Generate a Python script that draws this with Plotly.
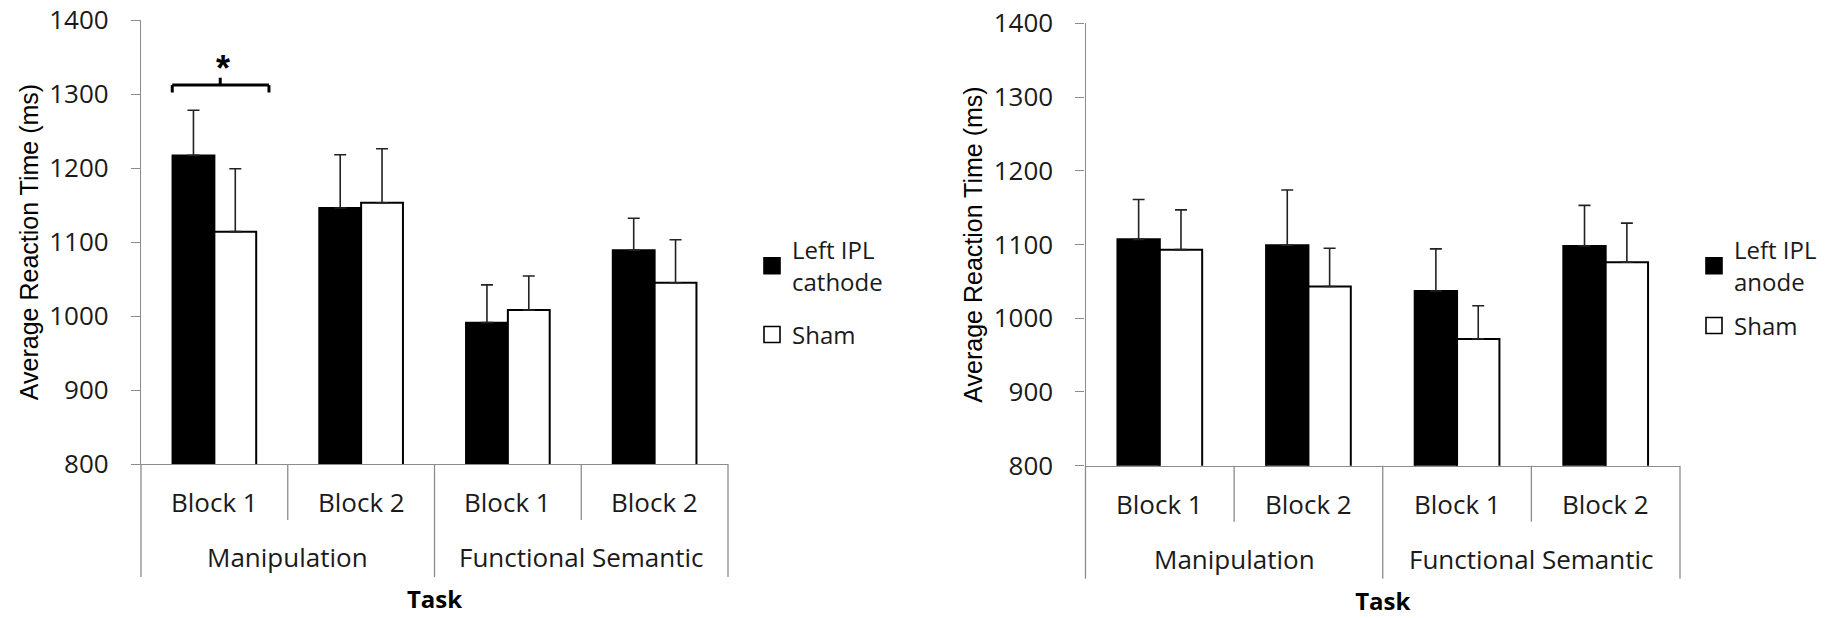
import plotly.graph_objects as go

# ---------------- data ----------------
blocks = ["Block 1", "Block 2", "Block 1", "Block 2"]
group_names = ["Manipulation", "Functional Semantic"]
blocks_per_group = 2

cathode_mean = [1217, 1146, 991, 1089]
cathode_err = [61, 72, 51, 43]
sham_left_mean = [1114, 1153, 1008, 1045]
sham_left_err = [85, 73, 46, 58]

anode_mean = [1107, 1099, 1037, 1098]
anode_err = [54, 75, 57, 55]
sham_right_mean = [1093, 1043, 972, 1076]
sham_right_err = [54, 52, 45, 53]

y_range = [800, 1400]
y_dtick = 100

# significance bracket (left chart, Manipulation Block 1)
sig_x = [-0.287, 0.04, 0.372]      # left end, centre tick, right end
sig_y = [1302, 1312, 1322]         # end tips, bar line, centre tip
sig_star = (0.057, 1335)

# ---------------- styling ----------------
AX = "#8c8c8c"
TXT = "#1a1a1a"
LBL_FONT = dict(family="Open Sans", size=26, color=TXT)
LEG_FONT = dict(family="Open Sans", size=24, color=TXT)
pos = list(range(len(blocks)))
n = len(blocks)
W, H = 1827, 618

fig = go.Figure()


def add_panel(xa, ya, m1, e1, m2, e2, leg, name1):
    for mean, err, fill, nm in [(m1, e1, "black", name1), (m2, e2, "white", "Sham")]:
        fig.add_trace(go.Bar(
            x=pos, y=mean, xaxis=xa, yaxis=ya, showlegend=False,
            marker=dict(color=fill, line=dict(color="black", width=2)),
            error_y=dict(type="data", symmetric=False, array=err,
                         arrayminus=[0] * len(err), color="#222222",
                         thickness=1.6, width=6),
            hoverinfo="y",
        ))
        fig.add_trace(go.Scatter(
            x=[None], y=[None], xaxis=xa, yaxis=ya, mode="markers", name=nm,
            legend=leg, legendgroup=leg + nm,
            marker=dict(symbol="square", size=16, color=fill,
                        line=dict(color="black", width=1.6)),
        ))


add_panel("x", "y", cathode_mean, cathode_err, sham_left_mean, sham_left_err,
          "legend", "Left IPL<br>cathode")
add_panel("x2", "y2", anode_mean, anode_err, sham_right_mean, sham_right_err,
          "legend2", "Left IPL<br>anode")

shapes = []
annotations = []
for xr, yr in [("x", "y"), ("x2", "y2")]:
    xd = xr + " domain"
    yd = yr + " domain"
    # category block labels
    for i, b in enumerate(blocks):
        annotations.append(dict(x=i, y=0, xref=xr, yref=yd, text=b, showarrow=False,
                                yshift=-38, yanchor="middle", font=LBL_FONT))
    # group labels
    for g, gname in enumerate(group_names):
        annotations.append(dict(x=g * blocks_per_group + (blocks_per_group - 1) / 2,
                                y=0, xref=xr, yref=yd, text=gname, showarrow=False,
                                yshift=-93, yanchor="middle", font=LBL_FONT))
    # dividers
    for i in range(n + 1):
        depth = -113 if i % blocks_per_group == 0 else -56
        shapes.append(dict(type="line", xref=xd, yref=yd, x0=i / n, x1=i / n,
                           ysizemode="pixel", yanchor=0, y0=0, y1=depth,
                           line=dict(color=AX, width=1.3)))

# significance bracket
bl, bc, br = sig_x
ye, yl, yt = sig_y
for x0, y0, x1, y1 in [(bl, ye, bl, yl), (bl, yl, br, yl), (br, yl, br, ye), (bc, yl, bc, yt)]:
    shapes.append(dict(type="line", xref="x", yref="y", x0=x0, y0=y0, x1=x1, y1=y1,
                       line=dict(color="black", width=3)))
annotations.append(dict(x=sig_star[0], y=sig_star[1], xref="x", yref="y", text="<b>*</b>",
                        showarrow=False, yanchor="middle",
                        font=dict(family="Liberation Sans", size=36, color="black")))

xaxis_common = dict(range=[-0.5, n - 0.5], showticklabels=False, ticks="", showline=True,
                    linecolor=AX, linewidth=1.3, showgrid=False, zeroline=False,
                    automargin=False,
                    title=dict(text="Task", standoff=127,
                               font=dict(family="Open Sans", size=24, color="black", weight="bold")))
yaxis_common = dict(range=y_range, dtick=y_dtick, ticks="outside", ticklen=9, tickcolor=AX,
                    tickwidth=1.3, showline=True, linecolor=AX, linewidth=1.3, showgrid=False,
                    zeroline=False, tickfont=LBL_FONT, ticklabelstandoff=17, automargin=False,
                    ticklabeloverflow="allow",
                    title=dict(text="Average Reaction Time (ms)", standoff=3,
                               font=dict(family="Liberation Sans", size=25, color="black")))

fig.update_layout(
    width=W, height=H, margin=dict(l=0, r=0, t=0, b=0, autoexpand=False),
    plot_bgcolor="white", paper_bgcolor="white",
    barmode="group", bargap=0.43, bargroupgap=0,
    font=dict(family="Open Sans", size=24, color=TXT),
    xaxis=dict(domain=[141 / W, 728 / W], anchor="y", **xaxis_common),
    yaxis=dict(domain=[1 - 464 / H, 1 - 20 / H], anchor="x", **yaxis_common),
    xaxis2=dict(domain=[1085.5 / W, 1680 / W], anchor="y2", **xaxis_common),
    yaxis2=dict(domain=[1 - 465.7 / H, 1 - 23.3 / H], anchor="x2", **yaxis_common),
    legend=dict(x=752 / W, y=1 - 228 / H, xanchor="left", yanchor="top",
                bgcolor="rgba(0,0,0,0)", font=LEG_FONT, tracegroupgap=19),
    legend2=dict(x=1694 / W, y=1 - 228 / H, xanchor="left", yanchor="top",
                 bgcolor="rgba(0,0,0,0)", font=LEG_FONT, tracegroupgap=10),
    shapes=shapes, annotations=annotations, showlegend=True,
)

# remove the default page margin so the figure fills the window exactly
fig.write_html("out.html", config={"displayModeBar": False},
               post_script="document.body.style.margin='0';")
